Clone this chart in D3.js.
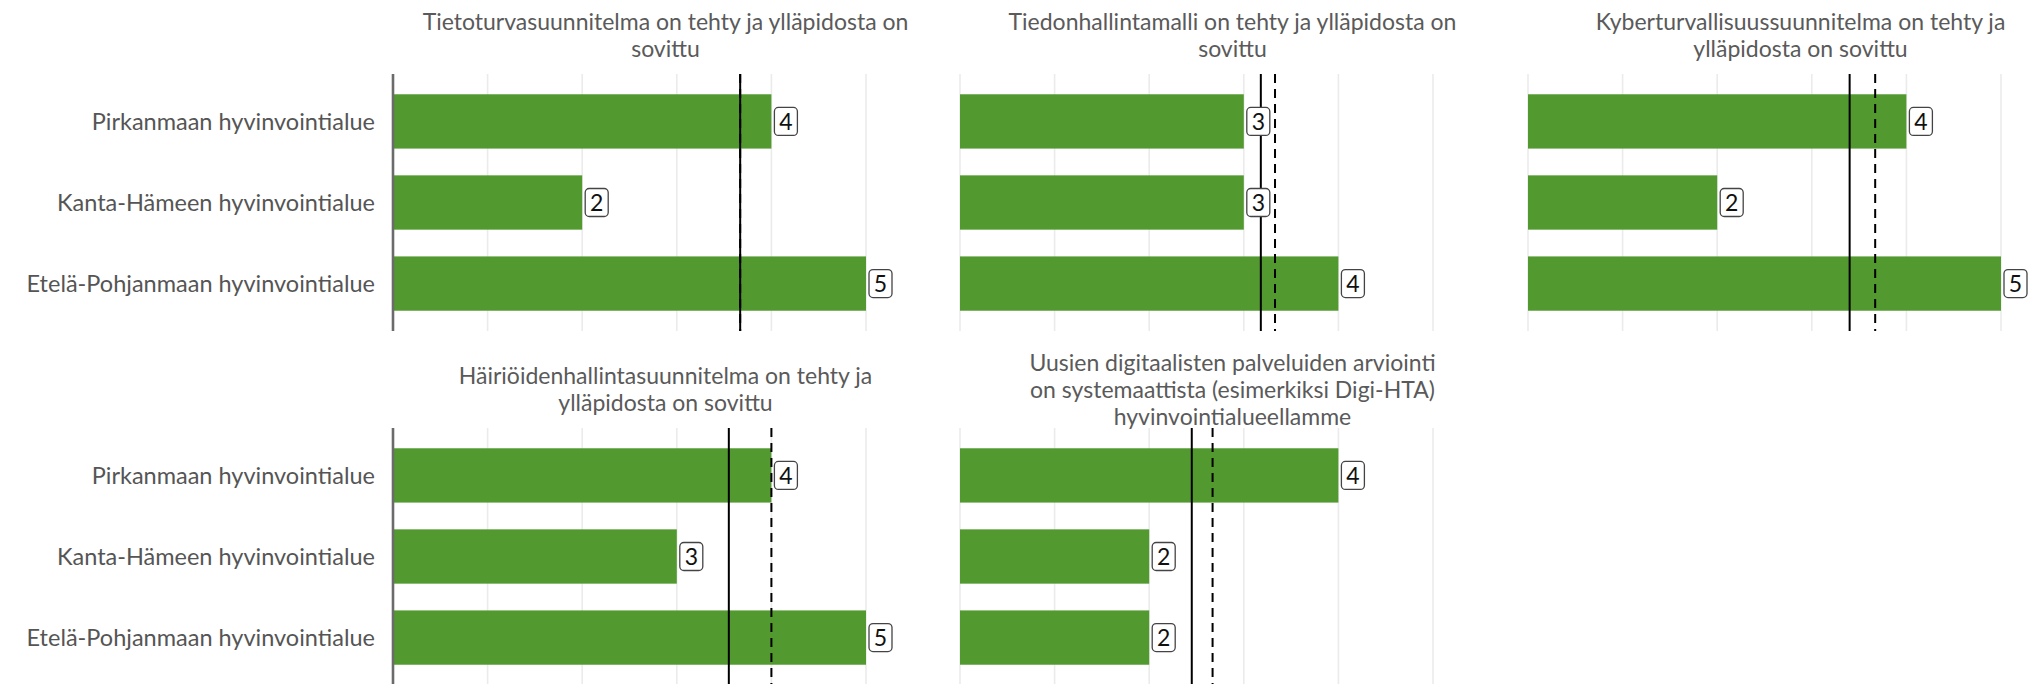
<!DOCTYPE html>
<html>
<head>
<meta charset="utf-8">
<script src="https://cdn.jsdelivr.net/npm/d3@7"></script>
<style>
  body { margin: 0; background: #fff; overflow: hidden; }
  svg { display: block; font-family: Lato, "Open Sans", sans-serif; }
</style>
</head>
<body>
<div id="chart"></div>
<script>
// regions shown on the y axis (same order in every panel)
const regions = ["Pirkanmaan hyvinvointialue", "Kanta-Hämeen hyvinvointialue", "Etelä-Pohjanmaan hyvinvointialue"];

// panel titles, already broken into lines
const titles = [
  ["Tietoturvasuunnitelma on tehty ja ylläpidosta on", "sovittu"],
  ["Tiedonhallintamalli on tehty ja ylläpidosta on", "sovittu"],
  ["Kyberturvallisuussuunnitelma on tehty ja", "ylläpidosta on sovittu"],
  ["Häiriöidenhallintasuunnitelma on tehty ja", "ylläpidosta on sovittu"],
  ["Uusien digitaalisten palveluiden arviointi", "on systemaattista (esimerkiksi Digi-HTA)", "hyvinvointialueellamme"]
];

// scores per panel, in regions order
const scores = [
  [4, 2, 5],
  [3, 3, 4],
  [4, 2, 5],
  [4, 3, 5],
  [4, 2, 2]
];

// solid reference line (all regions) and dashed line (these regions)
const refSolid = [3.67, 3.18, 3.40, 3.55, 2.45];
const refDashed = [3.67, 3.33, 3.67, 4.0, 2.67];

const ticks = [0, 1, 2, 3, 4, 5];

const W = 2029, H = 684;
const ncol = 3;
const panelW = 545, panelH = 257;
const colX = [393, 960, 1528];
const rowY = [74, 428];
const green = "#529a30";

const svg = d3.select("#chart").append("svg")
  .attr("width", W).attr("height", H)
  .attr("viewBox", `0 0 ${W} ${H}`);

const x = d3.scaleLinear().domain([0, panelW / 94.6]).range([0, panelW]);
const y = d3.scaleBand().domain(regions).range([0, panelH])
  .paddingInner(0.33).paddingOuter(0.25);

titles.forEach(function(t, i) {
  const col = i % ncol, row = Math.floor(i / ncol);
  const g = svg.append("g")
    .attr("transform", `translate(${colX[col]},${rowY[row]})`);

  // strip title, centred over the panel
  const lineH = 27;
  const midY = -38.5;
  g.append("text")
    .attr("text-anchor", "middle")
    .attr("fill", "#5a5a5a")
    .style("font-size", "23px")
    .selectAll("tspan")
    .data(t)
    .enter()
    .append("tspan")
      .attr("x", panelW / 2)
      .attr("y", (d, k) => midY + (k - (t.length - 1) / 2) * lineH)
      .attr("dy", "0.35em")
      .text(d => d);

  // vertical grid
  g.selectAll("line.grid")
    .data(ticks)
    .enter()
    .append("line")
      .attr("class", "grid")
      .attr("x1", d => x(d)).attr("x2", d => x(d))
      .attr("y1", 0).attr("y2", panelH)
      .attr("stroke", "#ebebeb")
      .attr("stroke-width", 1.6);

  // bars
  g.selectAll("rect.bar")
    .data(scores[i])
    .enter()
    .append("rect")
      .attr("class", "bar")
      .attr("x", x(0))
      .attr("y", (d, k) => y(regions[k]))
      .attr("width", d => x(d) - x(0))
      .attr("height", y.bandwidth())
      .attr("fill", green);

  // left axis line only on first column
  if (col === 0) {
    g.append("line")
      .attr("x1", x(0)).attr("x2", x(0))
      .attr("y1", 0).attr("y2", panelH)
      .attr("stroke", "#6b6b6b")
      .attr("stroke-width", 2.6);

    g.selectAll("text.ylab")
      .data(regions)
      .enter()
      .append("text")
        .attr("class", "ylab")
        .attr("x", -18)
        .attr("y", d => y(d) + y.bandwidth() / 2)
        .attr("dy", "0.35em")
        .attr("text-anchor", "end")
        .attr("fill", "#555")
        .style("font-size", "23.5px")
        .text(d => d);
  }

  // reference lines
  g.append("line")
    .attr("x1", x(refSolid[i])).attr("x2", x(refSolid[i]))
    .attr("y1", 0).attr("y2", panelH)
    .attr("stroke", "#000").attr("stroke-width", 2);
  g.append("line")
    .attr("x1", x(refDashed[i])).attr("x2", x(refDashed[i]))
    .attr("y1", 0).attr("y2", panelH)
    .attr("stroke", "#000").attr("stroke-width", 2)
    .attr("stroke-dasharray", "9,6");

  // value labels in rounded boxes
  const lab = g.selectAll("g.vlab")
    .data(scores[i])
    .enter()
    .append("g")
      .attr("class", "vlab")
      .attr("transform", (d, k) =>
        `translate(${x(d) + 3},${y(regions[k]) + y.bandwidth() / 2})`);
  lab.append("rect")
    .attr("x", 0).attr("y", -14)
    .attr("width", 23).attr("height", 28)
    .attr("rx", 4).attr("ry", 4)
    .attr("fill", "#fff")
    .attr("stroke", "#444")
    .attr("stroke-width", 1.3);
  lab.append("text")
    .attr("x", 11.5).attr("y", 0)
    .attr("dy", "0.36em")
    .attr("text-anchor", "middle")
    .attr("fill", "#111")
    .style("font-size", "23px")
    .text(d => d);
});
</script>
</body>
</html>
